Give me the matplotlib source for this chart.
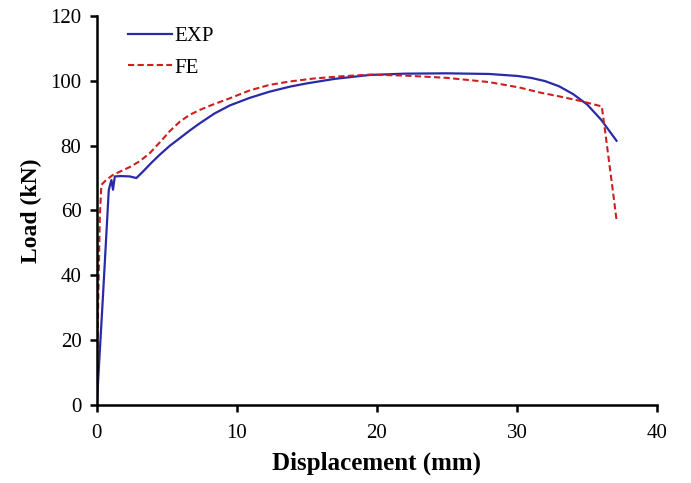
import matplotlib
matplotlib.use("Agg")
import matplotlib.pyplot as plt

# EXP (solid blue)
exp_x = [0.0, 0.45, 0.86, 1.05, 1.16, 1.29, 1.7, 2.36, 2.83, 3.3, 3.9, 4.5, 5.2, 5.93, 6.65, 7.36, 8.4, 9.5, 10.9, 12.3, 13.8, 15.0,
         17.0, 19.5, 22.0, 25.0, 28.0, 30.0, 31.0, 32.0, 33.0, 34.0, 35.0, 36.0, 37.1]
exp_y = [0.0, 34.0, 66.4, 69.4, 66.4, 70.5, 70.6, 70.5, 70.0, 72.0, 74.7, 77.2, 79.9, 82.3, 84.7, 86.9, 89.9, 92.4, 94.7, 96.6, 98.2, 99.2,
         100.6, 101.8, 102.2, 102.3, 102.1, 101.5, 100.9, 99.9, 98.3, 95.9, 92.7, 88.0, 81.5]

# FE (dashed red)
fe_x = [0.0, 0.1, 0.22, 0.33, 0.7, 1.17, 2.36, 3.07, 3.79, 4.5, 5.2, 5.93, 6.64, 7.3, 8.07, 9.5, 10.9, 12.3, 13.8, 15.5, 17.5, 19.5,
        22.0, 25.0, 28.0, 30.2, 31.6, 33.0, 34.5, 36.05, 36.3, 36.6, 36.9, 37.1]
fe_y = [0.0, 30.0, 58.0, 67.9, 69.5, 71.0, 73.4, 75.2, 77.7, 81.0, 84.4, 87.4, 89.5, 90.9, 92.3, 94.6, 97.0, 98.7, 99.8, 100.7, 101.4, 101.9,
        101.6, 100.9, 99.6, 97.9, 96.4, 95.2, 93.8, 92.1, 84.0, 74.0, 64.0, 57.1]

x_ticks = [0, 10, 20, 30, 40]
y_ticks = [0, 20, 40, 60, 80, 100, 120]

plt.rcParams['font.family'] = ['Liberation Serif', 'DejaVu Serif']

fig = plt.figure(figsize=(6.91, 4.83), dpi=100)
ax = fig.add_axes([0.140, 0.1615, 0.811, 0.8055])

ax.plot(exp_x, exp_y, color='#2a2aa8', lw=1.6, label='EXP')
ax.plot(fe_x, fe_y, color='#cc2020', lw=1.5, ls=(0, (3, 1.6)), label='FE')

ax.set_xlim(0, 40)
ax.set_ylim(0, 120)
ax.set_xticks(x_ticks)
ax.set_yticks(y_ticks)
ax.spines['top'].set_visible(False)
ax.spines['right'].set_visible(False)
for s in ['left', 'bottom']:
    ax.spines[s].set_linewidth(1.8)
ax.tick_params(axis='both', direction='out', length=5, width=1.8, labelsize=15, colors='black')
ax.tick_params(axis='y', pad=6)
ax.tick_params(axis='x', pad=9)

ax.set_xlabel('Displacement (mm)', fontsize=18, fontweight='bold', labelpad=6)
ax.set_ylabel('Load (kN)', fontsize=17, fontweight='bold', labelpad=6)

leg = ax.legend(loc='upper left', bbox_to_anchor=(0.022, 1.02), frameon=False, fontsize=15,
                handlelength=2.1, handletextpad=0.15, labelspacing=0.55)

fig.savefig('out.png', dpi=100)
